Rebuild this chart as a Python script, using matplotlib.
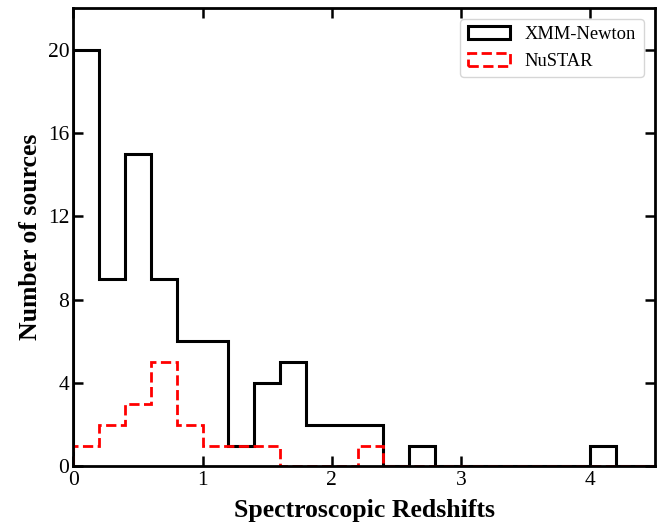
import numpy as np
import matplotlib.pyplot as plt

plt.rcParams['font.family'] = ['Liberation Serif', 'DejaVu Serif']

# redshift bins (width 0.2) and source counts per bin
bin_edges = np.round(np.arange(0, 4.61, 0.2), 2)
xmm_counts = [20, 9, 15, 9, 6, 6, 1, 4, 5, 2, 2, 2, 0, 1, 0, 0, 0, 0, 0, 0, 1, 0, 0]
nustar_counts = [1, 2, 3, 5, 2, 1, 1, 1, 0, 0, 0, 1, 0, 0, 0, 0, 0, 0, 0, 0, 0, 0, 0]

centers = bin_edges[:-1] + 0.1

fig, ax = plt.subplots(figsize=(6.68, 5.27), dpi=100)
ax.hist(centers, bins=bin_edges, weights=xmm_counts, histtype='step',
        color='black', lw=2.2, label='XMM-Newton')
ax.hist(centers, bins=bin_edges, weights=nustar_counts, histtype='step',
        color='red', lw=2.0, ls='--', label='NuSTAR')

ax.set_xlim(0, 4.5)
ax.set_ylim(0, 22)
ax.set_yticks([0, 4, 8, 12, 16, 20])
ax.set_xticks([0, 1, 2, 3, 4])
ax.tick_params(direction='in', top=True, right=True, length=7, width=1.8,
               labelsize=15.5, pad=3)
for s in ax.spines.values():
    s.set_linewidth(2)

ax.set_xlabel('Spectroscopic Redshifts', fontsize=18.5, fontweight='bold',
              labelpad=7)
ax.set_ylabel('Number of sources', fontsize=18.5, fontweight='bold',
              labelpad=4)
ax.legend(loc='upper right', fontsize=13.3, handlelength=2.3,
          borderaxespad=0.6)

plt.subplots_adjust(left=0.11, right=0.98, top=0.985, bottom=0.115)
plt.savefig('out.png')
